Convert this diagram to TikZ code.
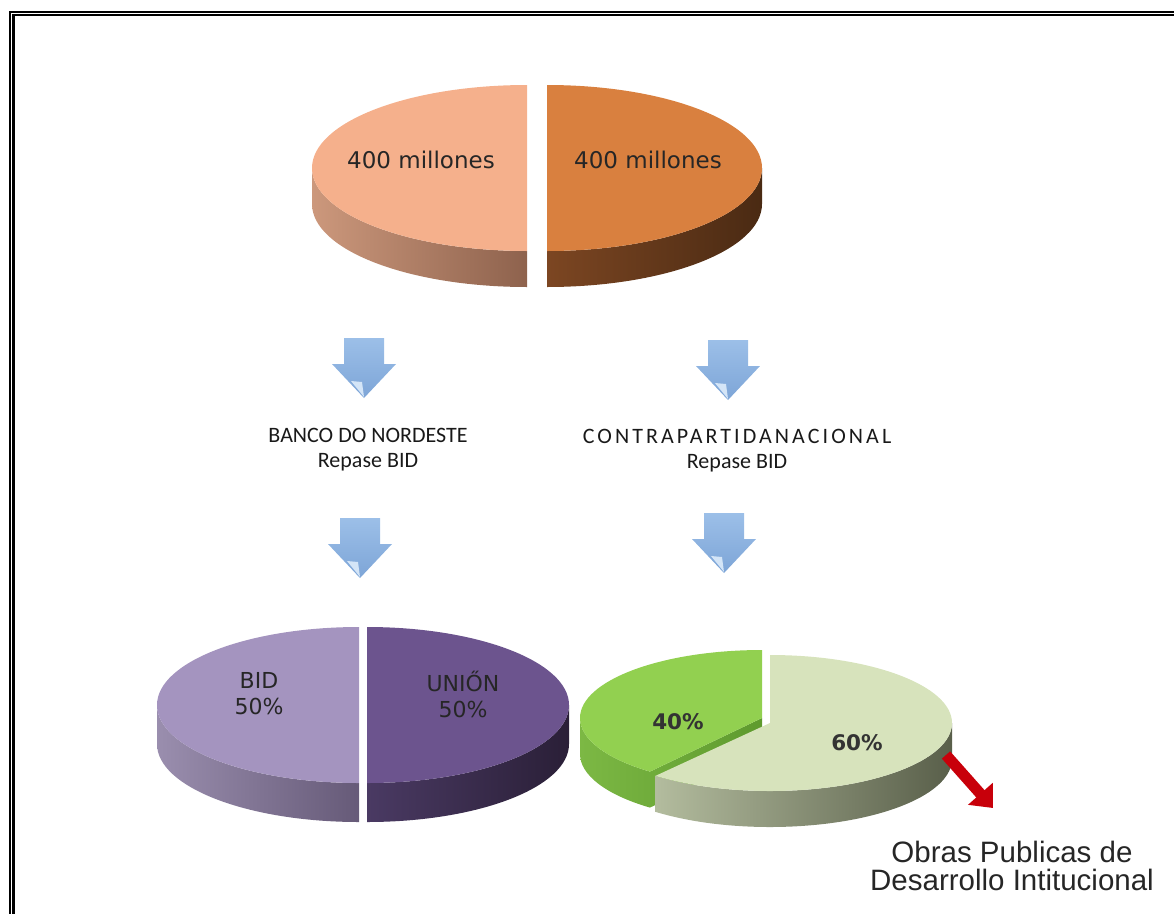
\documentclass[tikz,border=0pt]{standalone}
\usepackage{fontspec}
\setmainfont{Liberation Sans}
\newfontfamily\verdanafont{DejaVu Sans}
\newfontfamily\calibrifont{Carlito}
\usepackage{xcolor}
\usepackage{tikz}
\usetikzlibrary{arrows.meta}

\definecolor{salmontop}{HTML}{F5B08C}
\definecolor{salmonsideL}{HTML}{CC987C}
\definecolor{salmonsideR}{HTML}{8E624D}
\definecolor{browntop}{HTML}{D9803F}
\definecolor{brownsideL}{HTML}{7C4622}
\definecolor{brownsideR}{HTML}{4A2A13}
\definecolor{lilactop}{HTML}{A494BF}
\definecolor{lilacsideL}{HTML}{9A8EAE}
\definecolor{lilacsideR}{HTML}{665A78}
\definecolor{purpletop}{HTML}{6C548E}
\definecolor{purplesideL}{HTML}{4A3A63}
\definecolor{purplesideR}{HTML}{2A1F37}
\definecolor{greentop}{HTML}{92D050}
\definecolor{greensideL}{HTML}{7CB844}
\definecolor{greensideR}{HTML}{5E9A2E}
\definecolor{graytop}{HTML}{D7E3BC}
\definecolor{graysideL}{HTML}{B3BC9E}
\definecolor{graysideR}{HTML}{595F4A}
\definecolor{arrowtop}{HTML}{9CBFE8}
\definecolor{arrowbottom}{HTML}{7DA5D7}
\definecolor{arrowfold}{HTML}{D4E5F7}
\definecolor{arrowred}{HTML}{C8000A}

\begin{document}
\begin{tikzpicture}[x=1pt,y=1pt,
  pietext/.style={font=\verdanafont\fontsize{23}{26}\selectfont,text=black!85,align=center,inner sep=0pt},
  pctext/.style={font=\verdanafont\bfseries\fontsize{21.5}{24}\selectfont,text=black!80,inner sep=0pt},
  flowtext/.style={font=\calibrifont\fontsize{22}{25}\selectfont,text=black!90,align=center,inner sep=0pt},
  bluearrow/.style={top color=arrowtop,bottom color=arrowbottom},
  redarrow/.style={draw=arrowred,line width=11pt,-{Triangle[width=32pt,length=19pt]}}]

\useasboundingbox (0,0) rectangle (1174,-913);

% double frame, cut at the right and bottom
\draw[line width=2pt] (10,-920) -- (10,-11.7) -- (1180,-11.7);
\draw[line width=2.6pt] (13.5,-920) -- (13.5,-14.9) -- (1180,-14.9);

% top pie, two halves
\shade[left color=salmonsideL,right color=salmonsideR] (312,-168) arc[start angle=180,end angle=270,x radius=215,y radius=83] -- ++(0,-36) arc[start angle=270,end angle=180,x radius=215,y radius=83] -- cycle;
\fill[salmontop] (527,-85) arc[start angle=90,end angle=270,x radius=215,y radius=83] -- cycle;
\shade[left color=brownsideL,right color=brownsideR] (547,-251) arc[start angle=270,end angle=360,x radius=215,y radius=83] -- ++(0,-36) arc[start angle=360,end angle=270,x radius=215,y radius=83] -- cycle;
\fill[browntop] (547,-85) arc[start angle=90,end angle=-90,x radius=215,y radius=83] -- cycle;

\node[pietext] (L1) at (421,-160) {400 millones};
\node[pietext] (L2) at (648,-160) {400 millones};

% block arrows
\foreach \name/\x/\y in {A1/364/-338, A2/728/-340, A3/360/-518, A4/724/-513}{
  \coordinate (\name) at (\x,\y);
  \shade[bluearrow] (\name) ++(-20,0) -- ++(40,0) -- ++(0,-26) -- ++(12,0) -- ++(-32,-34) -- ++(-32,34) -- ++(12,0) -- cycle;
  \fill[arrowfold] (\name) ++(-13,-43) -- ++(11,-1) -- ++(2,-15) -- cycle;
}

\node[flowtext] (T1) at (368,-450) {BANCO DO NORDESTE\\Repase BID};
\node[flowtext] (T2) at (737,-451) {{\addfontfeature{LetterSpace=14}CONTRAPARTIDANACIONAL}\\Repase BID};

% bottom left pie
\shade[left color=lilacsideL,right color=lilacsideR] (157,-705) arc[start angle=180,end angle=270,x radius=202,y radius=78] -- ++(0,-39) arc[start angle=270,end angle=180,x radius=202,y radius=78] -- cycle;
\fill[lilactop] (359,-627) arc[start angle=90,end angle=270,x radius=202,y radius=78] -- cycle;
\shade[left color=purplesideL,right color=purplesideR] (367,-783) arc[start angle=270,end angle=360,x radius=202,y radius=78] -- ++(0,-39) arc[start angle=360,end angle=270,x radius=202,y radius=78] -- cycle;
\fill[purpletop] (367,-627) arc[start angle=90,end angle=-90,x radius=202,y radius=78] -- cycle;

\node[pietext,font=\verdanafont\fontsize{22}{26}\selectfont] (B1) at (259,-694) {BID\\50\%};
\node[pietext,font=\verdanafont\fontsize{22}{26}\selectfont] (B2) at (463,-694) {UNIŐN\\50\%};

% bottom right pie, 40% slice pulled out
\coordinate (G) at (762,-718);
\coordinate (W) at (770,-723);
\path (G) ++(0,-36) ++(232:182 and 68) coordinate (Gb);
\shade[left color=greensideL,right color=greensideR] (G) -- ++(0,-36) -- (Gb) arc[start angle=232,end angle=180,x radius=182,y radius=68] -- ++(0,36) arc[start angle=180,end angle=232,x radius=182,y radius=68] -- cycle;
\fill[greentop] (G) -- ++(0,68) arc[start angle=90,end angle=232,x radius=182,y radius=68] -- cycle;
\shade[left color=graysideL,right color=graysideR] (W) ++(0:182 and 68) arc[start angle=0,end angle=-129,x radius=182,y radius=68] -- ++(0,-36) arc[start angle=-129,end angle=0,x radius=182,y radius=68] -- cycle;
\fill[graytop] (W) -- ++(0,68) arc[start angle=90,end angle=-129,x radius=182,y radius=68] -- cycle;

\node[pctext] (G1) at (678,-722) {40\%};
\node[pctext] (G2) at (857,-743) {60\%};

\coordinate (R1) at (946,-755);
\coordinate (R2) at (993,-808);
\draw[redarrow] (R1) -- (R2);

\node[font=\fontsize{29.5}{28}\selectfont,text=black!85,align=center,inner sep=0pt] (OB) at (1012,-866) {Obras Publicas de\\Desarrollo Intitucional};
\end{tikzpicture}
\end{document}
